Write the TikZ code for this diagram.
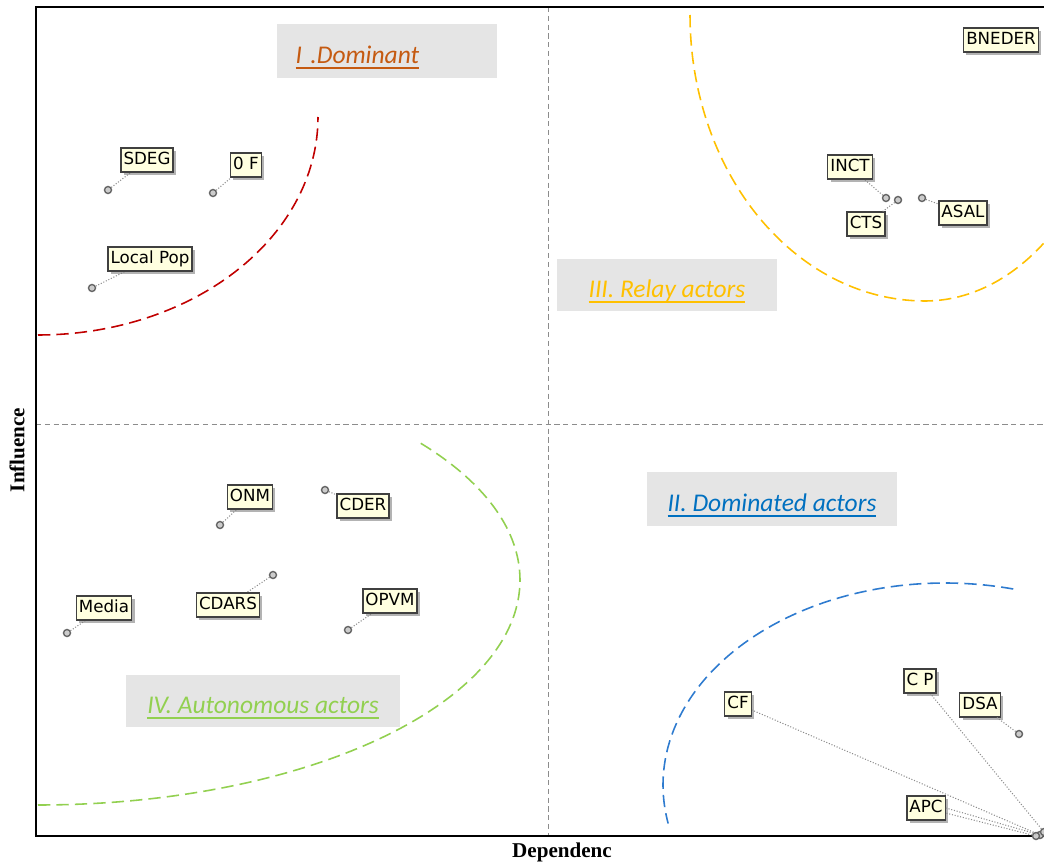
\documentclass[tikz,border=0pt]{standalone}
\usepackage{fontspec}
\usetikzlibrary{shadows}
\newfontfamily\actorfont{DejaVu Sans}
\newfontfamily\quadfont{Carlito}
\newfontfamily\axisfont{Liberation Serif}
\definecolor{domrouge}{HTML}{C00000}
\definecolor{domorange}{HTML}{C55A11}
\definecolor{relaisjaune}{HTML}{FFC000}
\definecolor{dominebleu}{HTML}{0070C0}
\definecolor{courbebleu}{HTML}{2E7BCF}
\definecolor{autovert}{HTML}{92D050}
\definecolor{etiquette}{HTML}{FFFFE0}
\newcommand{\quadline}[1]{\setbox0=\hbox{#1}\rlap{\copy0}\rule[-2.8pt]{\wd0}{0.9pt}}
\pgfdeclarelayer{back}
\pgfsetlayers{back,main}

\begin{document}
\begin{tikzpicture}[x=0.02cm, y=-0.02cm,
  actor/.style={draw=black!75, fill=etiquette, line width=0.8pt,
    font=\actorfont\fontsize{9.5}{11}\selectfont, inner xsep=1.5pt, inner ysep=2.5pt,
    text height=7pt, text depth=1.5pt,
    drop shadow={shadow xshift=1.6pt, shadow yshift=-1.6pt, fill=black!50, opacity=.6}},
  pt/.style={circle, draw=black!60, fill=black!20, inner sep=0pt, minimum size=0.14cm, line width=0.8pt},
  lead/.style={draw=black!45, densely dotted, line width=0.6pt},
  quadbox/.style={fill=black!10, inner sep=0pt, text height=18.5pt, text depth=4pt,
    font=\quadfont\itshape\fontsize{14.5}{16}\selectfont},
  zone/.style={dash pattern=on 7pt off 3.5pt, line width=0.9pt},
  axis/.style={font=\axisfont\bfseries\fontsize{12}{14}\selectfont}]

  \useasboundingbox (0,0) rectangle (1044,865);

  % Cadre et axes
  \draw[black!45, densely dashed, line width=0.5pt] (548,7) -- (548,836);
  \draw[black!45, densely dashed, line width=0.5pt] (36,424) -- (1044,424);
  \draw[line width=1.6pt] (1050,7) -- (36,7) -- (36,836) -- (1050,836);

  \node[axis, rotate=90] (infl) at (17,450) {Influence};
  \node[axis] (dep) at (562,852) {Dependenc};

  % Zones
  \begin{scope}
    \clip (36,7) rectangle (1044,836);
    \draw[zone, domrouge] plot[domain=-90:0, samples=60, smooth] ({38+280*cos(\x)},{117-218*sin(\x)});
    \draw[zone, relaisjaune] plot[domain=180:270, samples=50, smooth] ({925+235*cos(\x)},{15-286*sin(\x)})
      -- plot[domain=270:307, samples=30, smooth] ({925+197*cos(\x)},{15-286*sin(\x)});
    \draw[zone, autovert] plot[domain=-90:38, samples=80, smooth] ({38+482*cos(\x)},{580-225*sin(\x)});
    \draw[zone, courbebleu] plot[domain=76:191, samples=80, smooth] ({945+282*cos(\x)},{785-202*sin(\x)});
  \end{scope}

  % Titres des quadrants
  \node[quadbox, text=domorange, minimum height=1.08cm, text width=3.66cm, inner xsep=0.38cm, align=left]
    (qdom) at (387,51) {\quadline{I .Dominant}};
  \node[quadbox, text=relaisjaune, minimum width=4.42cm, minimum height=1.06cm]
    (qrel) at (667,285) {\quadline{III. Relay actors}};
  \node[quadbox, text=dominebleu, minimum width=5.0cm, minimum height=1.08cm]
    (qdomi) at (772,499) {\quadline{II. Dominated actors}};
  \node[quadbox, text=autovert, minimum width=5.48cm, minimum height=1.04cm]
    (qaut) at (263,701) {\quadline{IV. Autonomous actors}};

  % Acteurs
  \node[actor] (sdeg) at (147,160) {SDEG};
  \node[actor] (of) at (246,165) {0 F};
  \node[actor] (locpop) at (150,259) {Local Pop};
  \node[actor] (bneder) at (1001,40) {BNEDER};
  \node[actor] (inct) at (850,167) {INCT};
  \node[actor] (asal) at (963,213) {ASAL};
  \node[actor] (onm) at (250,497) {ONM};
  \node[actor] (cder) at (363,506) {CDER};
  \node[actor] (media) at (104,608) {Media};
  \node[actor] (cdars) at (228,605) {CDARS};
  \node[actor] (opvm) at (390,601) {OPVM};
  \node[actor] (cf) at (738,704) {CF};
  \node[actor] (cp) at (920,681) {C P};

  \node[pt] (sdegpt) at (108,190) {};
  \node[pt] (ofpt) at (213,193) {};
  \node[pt] (locpoppt) at (92,288) {};
  \node[pt] (inctpt) at (886,198) {};
  \node[pt] (ctspt) at (898,200) {};
  \node[pt] (asalpt) at (922,198) {};
  \node[pt] (onmpt) at (220,525) {};
  \node[pt] (cderpt) at (325,490) {};
  \node[pt] (mediapt) at (67,633) {};
  \node[pt] (cdarspt) at (273,575) {};
  \node[pt] (opvmpt) at (348,630) {};
  \node[pt] (dsapt) at (1019,734) {};
  \node[pt] (cfpt) at (1040,835) {};
  \node[pt] (cppt) at (1044,832) {};
  \node[pt] (apcpt) at (1036,836) {};

  \begin{pgfonlayer}{back}
    \foreach \a in {sdeg, of, locpop, inct, asal, onm, cder, media, cdars, opvm, cf, cp}
      \draw[lead] (\a pt) -- (\a);
  \end{pgfonlayer}

  \node[actor] (cts) at (866,224) {CTS};
  \node[actor] (dsa) at (980,705) {DSA};
  \node[actor] (apc) at (926,808) {APC};
  \draw[lead] (ctspt) -- (cts);
  \draw[lead] (dsapt) -- (dsa);
  \draw[lead] (apcpt) -- (apc);
  \draw[lead] (cfpt) -- (apc.east);

\end{tikzpicture}
\end{document}
